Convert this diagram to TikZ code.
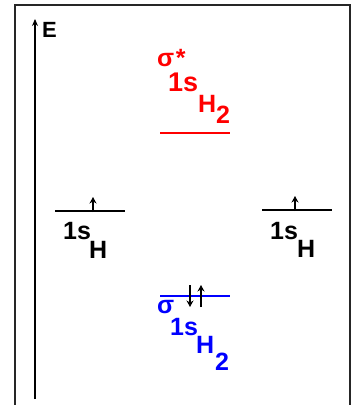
\documentclass[tikz,border=0pt]{standalone}
\usepackage{fontspec}
\setmainfont{Liberation Sans}
\usetikzlibrary{arrows.meta}
\definecolor{mored}{RGB}{255,0,0}
\definecolor{moblue}{RGB}{0,0,255}
\tikzset{
  lbl/.style={inner sep=0pt, anchor=base west, font=\fontsize{25}{25}\selectfont\bfseries},
  sig/.style={inner sep=0pt, anchor=base west, font=\fontsize{25}{25}\selectfont\bfseries},
  level/.style={line width=1.8pt},
  spin/.style={line width=2pt, -{Stealth[length=6.5pt,width=7pt]}},
}
\begin{document}
\begin{tikzpicture}[x=1pt,y=-1pt]
\useasboundingbox (0,0) rectangle (355,405);
% frame
\draw[line width=2pt, black!85] (15,410) -- (15,5) -- (350,5) -- (350,410);
% energy axis
\coordinate (ax0) at (35,399);
\coordinate (ax1) at (35,19);
\draw[line width=2.2pt, -{Stealth[length=7pt,width=6pt]}] (ax0) -- (ax1);
\node[lbl, font=\fontsize{22}{22}\selectfont\bfseries] (E) at (42,37) {E};
% sigma* (red)
\coordinate (r0) at (160,133);
\coordinate (r1) at (230,133);
\draw[level, mored] (r0) -- (r1);
\node[sig, mored] (rsig) at (157,66) {σ\hspace{1.5pt}*};
\node[lbl, mored, font=\fontsize{27}{27}\selectfont\bfseries] (r1s) at (168,91) {1s};
\node[lbl, mored] (rH) at (198,112) {H};
\node[lbl, mored] (r2) at (216,123) {2};
% left 1s_H
\coordinate (l0) at (55,211);
\coordinate (l1) at (125,211);
\draw[level] (l0) -- (l1);
\coordinate (la) at (93,212);
\coordinate (lb) at (93,197);
\draw[spin] (la) -- (lb);
\node[lbl] (l1s) at (63,239) {1s};
\node[lbl] (lH) at (89,258) {H};
% right 1s_H
\coordinate (q0) at (262,210);
\coordinate (q1) at (332,210);
\draw[level] (q0) -- (q1);
\coordinate (qa) at (295,211);
\coordinate (qb) at (295,196);
\draw[spin] (qa) -- (qb);
\node[lbl] (q1s) at (270,239) {1s};
\node[lbl] (qH) at (297,257) {H};
% sigma (blue)
\coordinate (b0) at (160,296);
\coordinate (b1) at (230,296);
\draw[level, moblue] (b0) -- (b1);
\coordinate (da) at (190,285);
\coordinate (db) at (190,307);
\draw[spin] (da) -- (db);
\coordinate (ua) at (201,307);
\coordinate (ub) at (201,285);
\draw[spin] (ua) -- (ub);
\node[sig, moblue] (bsig) at (157,313) {σ};
\node[lbl, moblue] (b1s) at (170,335) {1s};
\node[lbl, moblue] (bH) at (196,353) {H};
\node[lbl, moblue] (b2) at (215,370) {2};
\end{tikzpicture}
\end{document}
